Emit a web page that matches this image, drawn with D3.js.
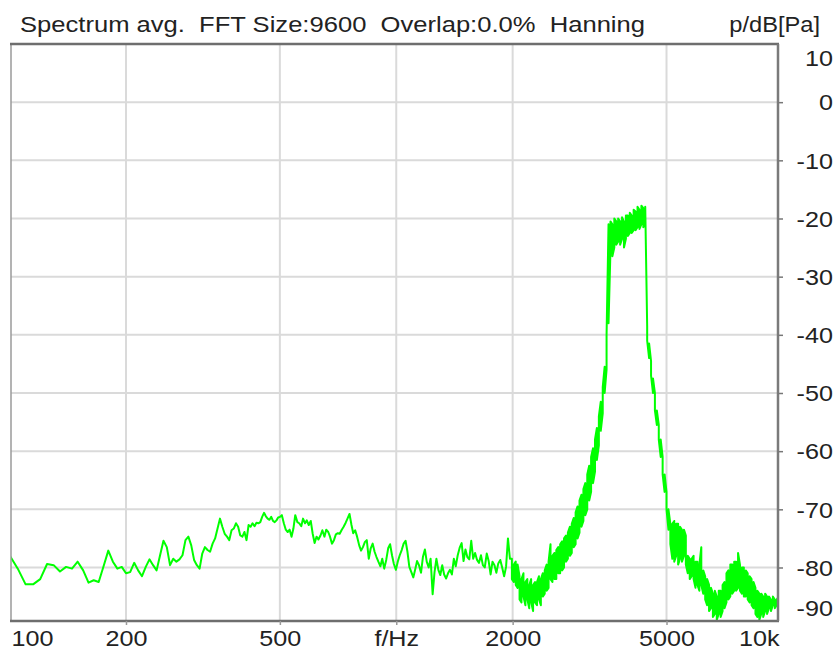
<!DOCTYPE html>
<html>
<head>
<meta charset="utf-8">
<script src="https://cdn.jsdelivr.net/npm/d3@7"></script>
<style>
  body { margin: 0; background: #fff; }
  svg text { font-family: "Liberation Sans", Arial, sans-serif; fill: #222; font-size: 21.5px; }
</style>
</head>
<body>
<div id="chart"></div>
<script>
// header texts
const title = "Spectrum avg.  FFT Size:9600  Overlap:0.0%  Hanning";
const unitLabel = "p/dB[Pa]";

// axis ticks
const xTicks = [100, 200, 500, 1000, 2000, 5000, 10000];
const xTickLabels = ["100", "200", "500", "f/Hz", "2000", "5000", "10k"];
const xGrid = [200, 500, 1000, 2000, 5000];
const yTicks = [10, 0, -10, -20, -30, -40, -50, -60, -70, -80, -90];
const yGrid = [0, -10, -20, -30, -40, -50, -60, -70, -80];

// spectrum below 2 kHz (Hz / dB)
const freqs = [
  100, 105, 110, 115, 120, 125, 130, 135, 140, 145, 150, 155, 160, 165, 170, 175, 180, 185, 190, 195,
  200, 205, 210, 215, 220, 225, 230, 235, 240, 245, 250, 255, 260, 265, 270, 275, 280, 285, 290, 295,
  300, 305, 310, 315, 320, 325, 330, 335, 340, 345, 350, 355, 360, 365, 370, 375, 380, 385, 390, 395,
  400, 405, 410, 415, 420, 425, 430, 435, 440, 445, 450, 455, 460, 465, 470, 475, 480, 485, 490, 495,
  500, 506, 512, 518, 524, 530, 536, 542, 548, 555, 561, 568, 574, 581, 587, 594, 601, 608, 615, 622,
  629, 637, 644, 652, 659, 667, 674, 682, 690, 698, 706, 714, 723, 731, 740, 748, 757, 766, 774, 783,
  792, 802, 811, 820, 830, 839, 849, 859, 869, 879, 889, 899, 910, 920, 931, 942, 953, 964, 975, 986,
  998, 1009, 1021, 1033, 1045, 1057, 1069, 1081, 1094, 1107, 1119, 1132, 1145, 1159, 1172, 1186, 1199, 1213, 1227, 1242,
  1256, 1270, 1285, 1300, 1315, 1330, 1346, 1361, 1377, 1393, 1409, 1425, 1442, 1459, 1476, 1493, 1510, 1527, 1545, 1563,
  1581, 1599, 1618, 1637, 1656, 1675, 1694, 1714, 1734, 1754, 1774, 1795, 1815, 1836, 1858, 1879, 1901, 1923, 1945, 1968
];
const levels = [
  -77.9, -80.2, -82.9, -82.9, -82.0, -79.4, -79.6, -80.7, -79.9, -80.2, -79.0, -80.5, -82.6, -82.2, -82.5, -79.8, -77.1, -79.0, -80.2, -79.9,
  -81.0, -80.8, -79.2, -80.5, -81.5, -79.9, -78.6, -79.6, -80.5, -77.9, -75.4, -76.5, -79.6, -78.5, -79.0, -78.6, -77.9, -75.3, -74.7, -76.2,
  -78.7, -79.6, -80.2, -77.6, -76.5, -77.0, -77.3, -75.9, -75.0, -73.3, -71.6, -73.0, -74.2, -74.7, -75.3, -73.6, -73.3, -72.4, -73.0, -74.5,
  -74.7, -73.9, -75.3, -72.7, -73.0, -72.4, -72.9, -72.3, -72.4, -72.2, -71.3, -70.6, -71.2, -71.6, -71.8, -71.3, -72.0, -72.2, -71.9, -71.4,
  -71.3, -71.0, -72.4, -73.5, -73.9, -73.5, -74.7, -73.3, -71.0, -72.2, -72.4, -72.9, -71.6, -72.4, -71.9, -72.7, -72.0, -74.2, -75.8, -74.7,
  -75.2, -74.5, -73.6, -74.7, -73.5, -73.9, -74.7, -75.9, -75.3, -74.3, -74.1, -74.2, -73.5, -73.0, -72.3, -71.6, -70.8, -72.7, -74.1, -73.6,
  -74.7, -76.2, -77.1, -76.5, -75.6, -75.3, -78.5, -76.7, -75.9, -77.3, -78.2, -79.0, -79.8, -78.5, -80.2, -78.7, -76.7, -76.0, -77.9, -79.4,
  -80.4, -79.0, -77.9, -77.0, -75.9, -75.4, -77.3, -79.9, -80.8, -81.7, -80.4, -78.9, -79.6, -80.9, -78.2, -76.9, -79.0, -80.0, -78.5, -84.6,
  -80.8, -78.5, -80.4, -81.3, -79.6, -81.2, -81.9, -81.0, -80.4, -81.2, -78.5, -79.8, -77.9, -76.6, -75.8, -78.9, -76.9, -78.2, -78.6, -75.4,
  -78.5, -77.5, -78.7, -79.2, -77.9, -79.6, -80.0, -77.6, -78.9, -81.2, -79.0, -79.6, -80.9, -79.3, -78.7, -80.0, -81.5, -79.9, -75.0, -78.5
];

// above 2 kHz the trace is a dense band: lower and upper edge per frequency
const bandFreqs = [
  1991, 2014, 2037, 2060, 2084, 2108, 2133, 2158, 2183, 2208, 2233, 2259, 2285, 2312, 2339, 2366, 2393, 2421, 2449, 2477,
  2506, 2535, 2564, 2594, 2624, 2654, 2685, 2716, 2748, 2779, 2812, 2844, 2877, 2910, 2944, 2978, 3013, 3048, 3083, 3119,
  3155, 3191, 3228, 3266, 3303, 3342, 3380, 3420, 3459, 3499, 3540, 3581, 3622, 3664, 3707, 3749, 3793, 3837, 3881, 3926,
  3972, 4018, 4064, 4111, 4159, 4207, 4256, 4305, 4355, 4405, 4456, 4508, 4560, 4613, 4666, 4720, 4775, 4830, 4886, 4943,
  5000, 5058, 5116, 5176, 5236, 5296, 5358, 5420, 5482, 5546, 5610, 5675, 5741, 5807, 5875, 5942, 6011, 6081, 6151, 6223,
  6295, 6367, 6441, 6516, 6591, 6668, 6745, 6823, 6902, 6982, 7063, 7145, 7228, 7311, 7396, 7482, 7568, 7656, 7744, 7834,
  7924, 8016, 8109, 8203, 8298, 8395, 8492, 8590, 8690, 8790, 8892, 8995, 9099, 9205, 9311, 9419, 9528, 9639, 9750
];
const bandMin = [
  -82.0, -82.5, -83.0, -83.5, -85.5, -86.0, -85.0, -86.5, -85.5, -87.0, -86.0, -87.5, -86.0, -86.5, -85.5, -86.5, -85.0, -84.5, -84.0, -83.5,
  -82.0, -82.5, -82.0, -82.0, -81.0, -81.0, -80.5, -80.0, -79.0, -78.5, -78.0, -77.5, -76.5, -76.0, -75.0, -74.0, -73.0, -72.0, -71.0, -70.0,
  -68.5, -67.0, -65.5, -63.5, -61.5, -59.0, -56.5, -53.5, -50.0, -46.0, -38.0, -25.5, -26.5, -25.0, -24.5, -24.0, -24.5, -23.5, -25.0, -23.5,
  -23.0, -22.5, -22.5, -22.0, -22.0, -21.5, -21.8, -21.0, -21.5, -21.0, -41.0, -44.0, -47.0, -50.0, -53.0, -55.5, -58.0, -61.0, -64.0, -67.0,
  -70.0, -73.5, -76.0, -78.5, -79.0, -78.0, -79.5, -78.5, -79.0, -78.0, -79.5, -81.0, -82.0, -81.5, -82.0, -83.5, -83.0, -84.0, -83.0, -84.5,
  -85.5, -86.5, -87.5, -87.0, -88.5, -88.0, -89.0, -88.0, -88.5, -87.5, -87.0, -86.0, -85.5, -85.0, -84.5, -84.0, -84.0, -83.5, -84.0, -84.5,
  -85.0, -85.0, -85.5, -86.0, -86.5, -87.0, -88.0, -88.5, -89.0, -88.0, -88.5, -87.5, -88.0, -87.0, -87.5, -86.5, -87.0, -86.5, -86.5
];
const bandMax = [
  -78.5, -79.5, -79.0, -79.5, -81.5, -82.0, -81.0, -82.5, -82.0, -83.0, -82.0, -83.0, -82.5, -82.5, -81.5, -82.0, -81.0, -80.5, -79.5, -79.0,
  -76.0, -78.0, -77.5, -77.0, -76.5, -76.0, -75.5, -75.0, -74.5, -74.0, -73.0, -72.5, -71.5, -70.5, -69.5, -68.5, -67.5, -66.5, -65.5, -64.0,
  -62.5, -61.0, -59.5, -58.0, -56.0, -54.0, -51.5, -49.0, -45.5, -40.0, -21.0, -20.5, -21.0, -20.0, -20.5, -20.0, -20.5, -19.8, -20.5, -19.5,
  -19.5, -19.0, -19.5, -18.5, -18.8, -18.0, -18.5, -17.8, -18.2, -18.0, -38.5, -41.5, -44.5, -47.5, -50.0, -53.0, -55.5, -58.0, -61.0, -64.0,
  -67.0, -70.0, -72.5, -72.5, -72.0, -72.5, -72.5, -73.0, -73.5, -73.5, -74.5, -78.0, -78.5, -78.5, -78.0, -79.0, -79.0, -79.5, -76.5, -80.5,
  -81.5, -82.0, -83.0, -83.5, -84.5, -84.0, -85.0, -84.0, -84.0, -83.0, -82.5, -81.0, -80.5, -79.5, -79.5, -79.0, -79.0, -77.5, -79.5, -80.0,
  -80.0, -80.5, -81.0, -81.5, -82.0, -82.5, -83.5, -84.0, -84.5, -84.5, -85.0, -84.5, -85.0, -85.0, -85.5, -85.0, -85.5, -85.5, -85.0
];

const width = 836, height = 651;
const frame = { left: 11, right: 778, top: 44, bottom: 621 };
const textStretch = 1.17; // glyphs in the picture are wider than plain Arial

const svg = d3.select("#chart")
  .append("svg")
  .attr("width", width)
  .attr("height", height);

svg.append("rect").attr("width", width).attr("height", height).attr("fill", "#fff");

const x = d3.scaleLog().domain([100.84, 9712]).range([frame.left, frame.right]);
const y = d3.scaleLinear().domain([-89.2, 10]).range([frame.bottom, frame.top]);

function stretch(sel, k) {
  sel.each(function () {
    const len = this.getComputedTextLength();
    d3.select(this).attr("textLength", len * k).attr("lengthAdjust", "spacingAndGlyphs");
  });
}

// grid
svg.append("g")
  .selectAll("line")
  .data(xGrid)
  .join("line")
  .attr("x1", d => x(d)).attr("x2", d => x(d))
  .attr("y1", frame.top).attr("y2", frame.bottom)
  .attr("stroke", "#dadada").attr("stroke-width", 2);

svg.append("g")
  .selectAll("line")
  .data(yGrid)
  .join("line")
  .attr("x1", frame.left).attr("x2", frame.right)
  .attr("y1", d => y(d)).attr("y2", d => y(d))
  .attr("stroke", "#dadada").attr("stroke-width", 2);

// spectrum line
svg.append("clipPath").attr("id", "plot-clip")
  .append("rect")
  .attr("x", frame.left).attr("y", frame.top)
  .attr("width", frame.right - frame.left).attr("height", frame.bottom - frame.top);

const points = freqs.map((f, i) => ({ f, v: levels[i] }));
bandFreqs.forEach((f, i) => {
  const pair = i % 2 === 0 ? [bandMax[i], bandMin[i]] : [bandMin[i], bandMax[i]];
  pair.forEach(v => points.push({ f, v }));
});

const line = d3.line().x(d => x(d.f)).y(d => y(d.v));

svg.append("path")
  .datum(points)
  .attr("clip-path", "url(#plot-clip)")
  .attr("fill", "none")
  .attr("stroke", "#00ff00")
  .attr("stroke-width", 2)
  .attr("stroke-linejoin", "round")
  .attr("d", line);

// frame
const border = svg.append("g").attr("fill", "none");
border.append("line").attr("x1", frame.left).attr("x2", frame.left)
  .attr("y1", frame.top).attr("y2", frame.bottom).attr("stroke", "#9a9a9a").attr("stroke-width", 1.5);
border.append("line").attr("x1", frame.left - 1).attr("x2", frame.right + 1)
  .attr("y1", frame.top).attr("y2", frame.top).attr("stroke", "#6e6e6e").attr("stroke-width", 2.5);
border.append("line").attr("x1", frame.left - 1).attr("x2", frame.right + 1)
  .attr("y1", frame.bottom).attr("y2", frame.bottom).attr("stroke", "#6e6e6e").attr("stroke-width", 2.5);
border.append("line").attr("x1", frame.right).attr("x2", frame.right)
  .attr("y1", frame.top).attr("y2", frame.bottom).attr("stroke", "#7a7a7a").attr("stroke-width", 2.5);

// y axis on the right
const yAxisGroup = svg.append("g")
  .attr("transform", `translate(${frame.right},0)`)
  .call(d3.axisRight(y).tickValues(yTicks).tickSize(5).tickFormat(d => String(d)));
yAxisGroup.attr("font-size", null).attr("font-family", null);
yAxisGroup.select(".domain").remove();
yAxisGroup.selectAll(".tick line").attr("stroke", "#777").attr("stroke-width", 1.5);
yAxisGroup.selectAll(".tick")
  .filter(d => d === 10 || d === -90)
  .select("line").remove();
yAxisGroup.selectAll(".tick text")
  .attr("text-anchor", "end")
  .attr("x", 833 - frame.right)
  .attr("dy", "0.36em")
  .attr("y", d => d === 10 ? 14 : d === -90 ? -18 : 0)
  .attr("fill", "#222")
  .call(stretch, textStretch);

// x axis at the bottom
const xAxisGroup = svg.append("g")
  .attr("transform", `translate(0,${frame.bottom})`)
  .call(d3.axisBottom(x).tickValues(xTicks).tickSize(4)
    .tickFormat((d, i) => xTickLabels[i]));
xAxisGroup.attr("font-size", null).attr("font-family", null);
xAxisGroup.select(".domain").remove();
xAxisGroup.selectAll(".tick line").attr("stroke", "#999").attr("stroke-width", 1.5);
xAxisGroup.selectAll(".tick")
  .filter(d => d === 100 || d === 10000)
  .select("line").remove();
xAxisGroup.selectAll(".tick text")
  .attr("y", 25)
  .attr("dy", 0)
  .attr("fill", "#222")
  .attr("text-anchor", d => d === 100 ? "start" : d === 10000 ? "end" : "middle")
  .attr("x", d => d === 100 ? 11 - x(100) : d === 10000 ? frame.right + 1 - x(10000) : 0)
  .call(stretch, textStretch);

// header
svg.append("text")
  .attr("x", 20)
  .attr("y", 32)
  .style("white-space", "pre")
  .attr("textLength", 625)
  .attr("lengthAdjust", "spacingAndGlyphs")
  .text(title);

svg.append("text")
  .attr("x", 820)
  .attr("y", 32)
  .attr("text-anchor", "end")
  .text(unitLabel)
  .call(stretch, 1.1);
</script>
</body>
</html>
